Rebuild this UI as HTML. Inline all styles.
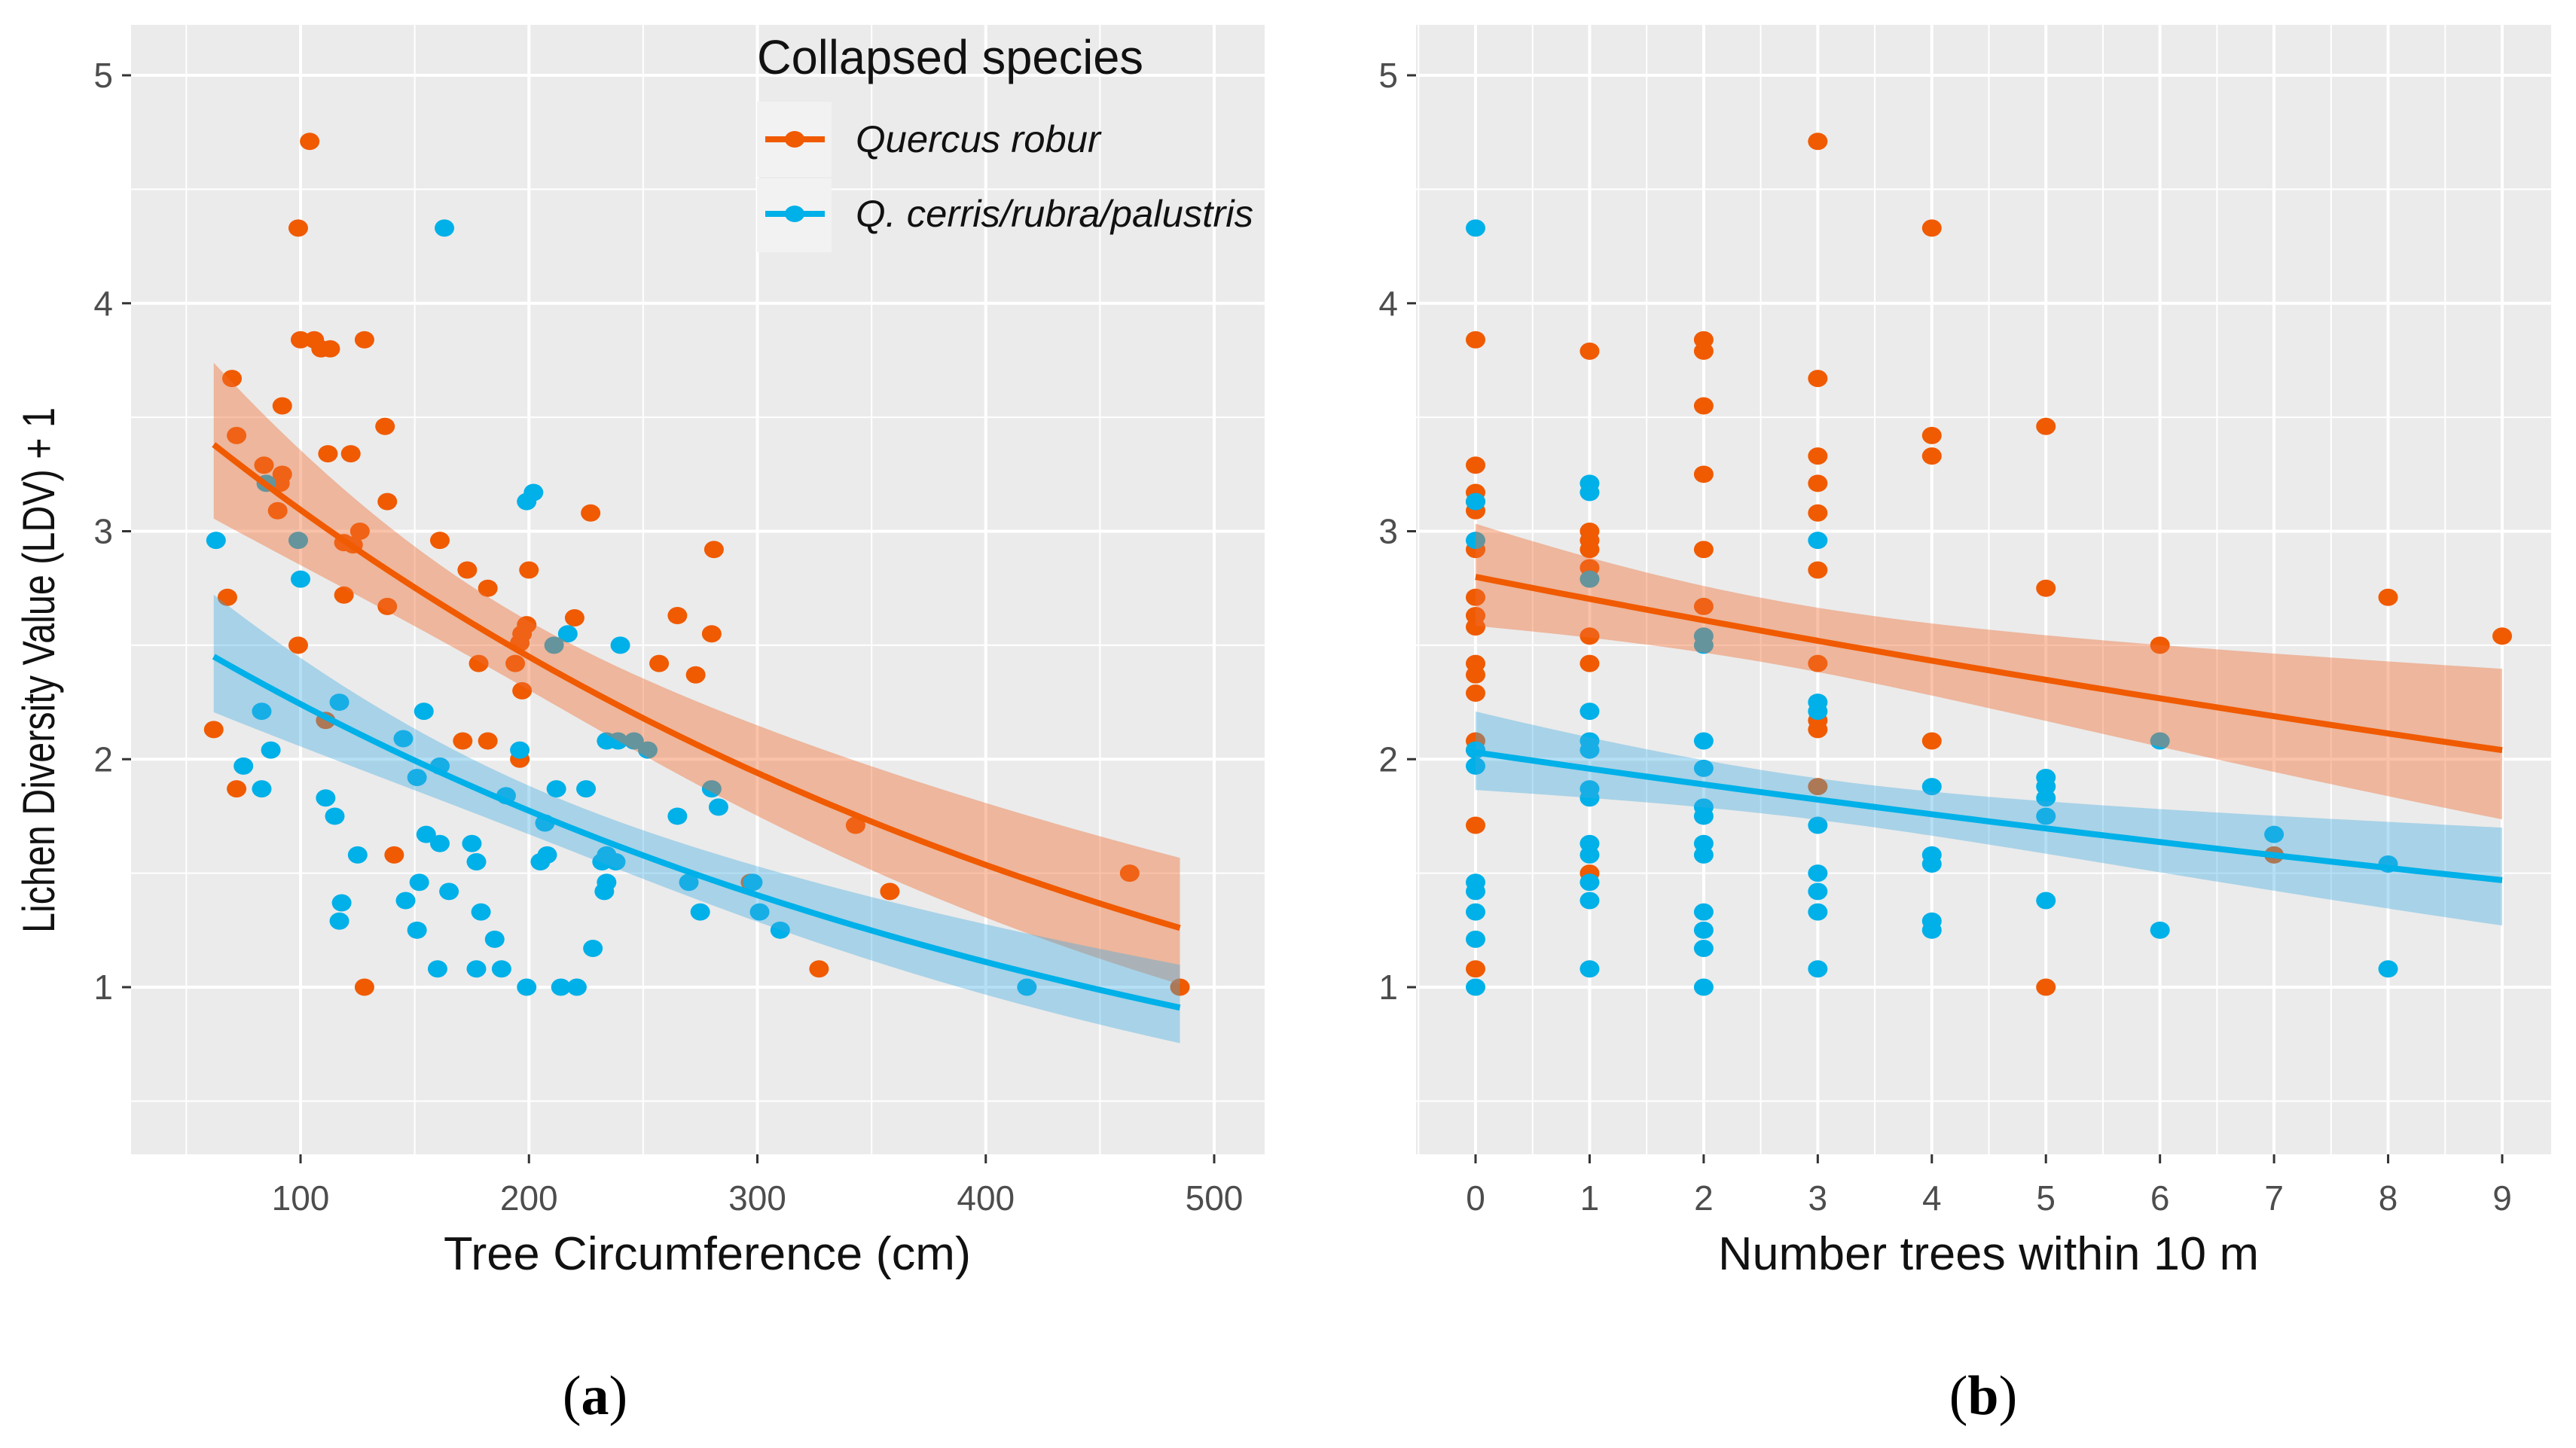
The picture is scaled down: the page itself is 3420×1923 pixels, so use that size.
<!DOCTYPE html>
<html><head><meta charset="utf-8"><style>
html,body{margin:0;padding:0;background:#fff;}
svg{display:block;font-family:"Liberation Sans",sans-serif;}
</style></head><body>
<svg id="chart" width="3420" height="1923" viewBox="0 0 3420 1923" xmlns="http://www.w3.org/2000/svg">
<g id="pa"></g>
<g id="pb"></g>
<g id="legend">
  <rect x="1005" y="135" width="99" height="100" fill="#f2f2f2"/>
  <rect x="1005" y="237" width="99" height="98" fill="#f2f2f2"/>
  <text x="1005" y="98" font-size="64" fill="#111" textLength="513" lengthAdjust="spacingAndGlyphs">Collapsed species</text>
  <line x1="1016" y1="185" x2="1095" y2="185" stroke="#f05a00" stroke-width="8"/>
  <ellipse cx="1055" cy="185" rx="13" ry="11" fill="#f05a00"/>
  <line x1="1016" y1="284" x2="1095" y2="284" stroke="#00b0e8" stroke-width="8"/>
  <ellipse cx="1055" cy="284" rx="13" ry="11" fill="#00b0e8"/>
  <text x="1136" y="202" font-size="50" font-style="italic" fill="#111" textLength="325" lengthAdjust="spacingAndGlyphs">Quercus robur</text>
  <text x="1136" y="301" font-size="50" font-style="italic" fill="#111" textLength="528" lengthAdjust="spacingAndGlyphs">Q. cerris/rubra/palustris</text>
</g>
<text transform="translate(72,890) rotate(-90)" text-anchor="middle" font-size="60" fill="#111" textLength="698" lengthAdjust="spacingAndGlyphs">Lichen Diversity Value (LDV) + 1</text>
<text x="939" y="1686" text-anchor="middle" font-size="62" fill="#111" textLength="700" lengthAdjust="spacingAndGlyphs">Tree Circumference (cm)</text>
<text x="2640" y="1686" text-anchor="middle" font-size="62" fill="#111" textLength="718" lengthAdjust="spacingAndGlyphs">Number trees within 10 m</text>
<text x="790" y="1878" text-anchor="middle" font-size="74" font-family="Liberation Serif, serif" fill="#000">(<tspan font-weight="bold">a</tspan>)</text>
<text x="2633" y="1878" text-anchor="middle" font-size="74" font-family="Liberation Serif, serif" fill="#000">(<tspan font-weight="bold">b</tspan>)</text>
</svg>
<script>
// Panel a data
const aRoburX = [104,99,100,106,109,113,128,70,72,92,137,84,92,91,90,112,122,138,126,119,123,161,68,119,138,99,62,72,111,141,128,173,182,200,199,197,196,194,197,196,178,171,182,227,220,265,257,273,281,280,297,327,343,358,463,485];
const aRoburY = [4.71,4.33,3.84,3.84,3.8,3.8,3.84,3.67,3.42,3.55,3.46,3.29,3.25,3.21,3.09,3.34,3.34,3.13,3.0,2.95,2.94,2.96,2.71,2.72,2.67,2.5,2.13,1.87,2.17,1.58,1.0,2.83,2.75,2.83,2.59,2.55,2.51,2.42,2.3,2.0,2.42,2.08,2.08,3.08,2.62,2.63,2.42,2.37,2.92,2.55,1.46,1.08,1.71,1.42,1.5,1.0];
const aOtherX = [63,85,99,100,163,199,202,83,87,75,83,111,115,117,125,118,117,154,145,151,161,155,161,152,146,151,160,165,175,177,179,185,188,177,190,196,199,207,205,208,214,221,212,225,211,217,240,234,239,246,252,228,232,234,233,234,238,265,270,275,280,283,298,301,310,418];
const aOtherY = [2.96,3.21,2.96,2.79,4.33,3.13,3.17,2.21,2.04,1.97,1.87,1.83,1.75,2.25,1.58,1.37,1.29,2.21,2.09,1.92,1.97,1.67,1.63,1.46,1.38,1.25,1.08,1.42,1.63,1.55,1.33,1.21,1.08,1.08,1.84,2.04,1.0,1.72,1.55,1.58,1.0,1.0,1.87,1.87,2.5,2.55,2.5,2.08,2.08,2.08,2.04,1.17,1.55,1.46,1.42,1.58,1.55,1.75,1.46,1.33,1.87,1.79,1.46,1.33,1.25,1.0];
// fit params: [a, b, c0, c1, xmean, xmin, xmax]
const aRoburFit = [3.906,-0.002333,0.0036,4.74e-7,180,62,485];
const aOtherFit = [2.833,-0.002341,0.0036,3.9e-7,200,62,485];
const aXTicks = [100,200,300,400,500];
const yTicks = [1,2,3,4,5];
// Panel b data
const bRoburX = [0,0,0,0,0,0,0,0,0,0,0,0,0,0,0,0, 1,1,1,1,1,1,1,1, 2,2,2,2,2,2, 3,3,3,3,3,3,3,3,3,3, 4,4,4,4, 5,5,5, 6,7,8,9];
const bRoburY = [3.84,3.29,3.17,3.13,3.09,2.92,2.71,2.63,2.58,2.42,2.37,2.29,2.08,2.04,1.71,1.08, 3.79,3.0,2.96,2.92,2.84,2.54,2.42,1.5, 3.84,3.79,3.55,3.25,2.92,2.67, 4.71,3.67,3.33,3.21,3.08,2.83,2.42,2.17,2.13,1.88, 4.33,3.42,3.33,2.08, 3.46,2.75,1.0, 2.5,1.58,2.71,2.54];
const bOtherX = [0,0,0,0,0,0,0,0,0,0, 1,1,1,1,1,1,1,1,1,1,1,1,1, 2,2,2,2,2,2,2,2,2,2,2,2, 3,3,3,3,3,3,3,3, 4,4,4,4,4, 5,5,5,5,5, 6,6,7,8,8];
const bOtherY = [4.33,3.13,2.96,2.04,1.97,1.46,1.42,1.33,1.21,1.0, 3.21,3.17,2.79,2.21,2.08,2.04,1.87,1.83,1.63,1.58,1.46,1.38,1.08, 2.54,2.5,2.08,1.96,1.79,1.75,1.63,1.58,1.33,1.25,1.17,1.0, 2.96,2.25,2.21,1.71,1.5,1.42,1.33,1.08, 1.88,1.58,1.54,1.29,1.25, 1.92,1.88,1.83,1.75,1.38, 2.08,1.25,1.67,1.54,1.08];
const bRoburFit = [2.80,-0.0352,0.003,0.000544,2.5,0,9];
const bOtherFit = [2.03,-0.0359,0.0025,0.00052,3,0,9];
const bXTicks = [0,1,2,3,4,5,6,7,8,9];

const NS = "http://www.w3.org/2000/svg";
const ORANGE = "#f05a00", BLUE = "#00b0e8";
function mk(tag, attrs, parent){ const e=document.createElementNS(NS,tag); for(const k in attrs) e.setAttribute(k,attrs[k]); parent.appendChild(e); return e; }
const yScale = v => 1311 + (1 - v) * (1311 - 100) / 4;
const PT = 33, PB = 1533;

function drawPanel(g, left, right, xs, xTicks, minorStep, roburX, roburY, otherX, otherY, fitR, fitO, tag){
  const bg = mk('rect',{x:left,y:PT,width:right-left,height:PB-PT,fill:'#ebebeb'},g);
  
  
  for(let v=0.5; v<=5; v+=1){ const y=yScale(v); if(y<PT||y>PB) continue;
    const l=mk('line',{x1:left,x2:right,y1:y,y2:y,stroke:'#fff','stroke-width':2},g);
    
     }
  const d0 = xs.inv(left), d1 = xs.inv(right);
  for(let v=Math.ceil((d0 - xTicks[0])/minorStep)*minorStep + xTicks[0]; v<=d1; v+=minorStep){
    if(xTicks.some(t=>Math.abs(t-v)<1e-6)) continue;
    const x=xs(v);
    const l=mk('line',{x1:x,x2:x,y1:PT,y2:PB,stroke:'#fff','stroke-width':2},g);
    
     }
  yTicks.forEach(v=>{ const y=yScale(v);
    const l=mk('line',{x1:left,x2:right,y1:y,y2:y,stroke:'#fff','stroke-width':4},g);
    
    
    const t=mk('line',{x1:left-12,x2:left,y1:y,y2:y,stroke:'#333','stroke-width':3},g);
    
    
    const tx=mk('text',{x:left-24,y:y+16,'text-anchor':'end','font-size':46,fill:'#4d4d4d'},g);
    tx.textContent=v;
    
     });
  xTicks.forEach(v=>{ const x=xs(v);
    const l=mk('line',{x1:x,x2:x,y1:PT,y2:PB,stroke:'#fff','stroke-width':4},g);
    
    
    const t=mk('line',{x1:x,x2:x,y1:PB,y2:PB+12,stroke:'#333','stroke-width':3},g);
    
    
    const tx=mk('text',{x:x,y:1607,'text-anchor':'middle','font-size':46,fill:'#4d4d4d'},g);
    tx.textContent=v;
    
     });
  const pts=(X,Y,c,name)=>X.forEach((xv,i)=>{
    const p=mk('ellipse',{cx:xs(xv),cy:yScale(Y[i]),rx:13,ry:11.5,fill:c},g);
    
     });
  pts(roburX,roburY,ORANGE,'point-robur');
  pts(otherX,otherY,BLUE,'point-other');
  const fit=(F,c,bandFill,name)=>{
    const [a,b,c0,c1,xm,xmin,xmax]=F; const N=60; let up=[],lo=[],mid=[];
    for(let i=0;i<=N;i++){ const x=xmin+(xmax-xmin)*i/N; const m=Math.log(a)+b*x; const h=Math.sqrt(c0+c1*(x-xm)*(x-xm));
      mid.push([xs(x),yScale(Math.exp(m))]); up.push([xs(x),yScale(Math.exp(m+h))]); lo.push([xs(x),yScale(Math.exp(m-h))]); }
    const poly=up.concat(lo.reverse()).map(p=>p.join(',')).join(' ');
    const band=mk('polygon',{points:poly,fill:bandFill},g);
    
    
    const ln=mk('polyline',{points:mid.map(p=>p.join(',')).join(' '),fill:'none',stroke:c,'stroke-width':8},g);
    
    
  };
  fit(fitR,ORANGE,'rgba(240,110,50,0.42)','robur');
  fit(fitO,BLUE,'rgba(60,170,225,0.38)','other');
}
function linScale(d0,p0,d1,p1){ const f=v=>p0+(v-d0)*(p1-p0)/(d1-d0); f.inv=p=>d0+(p-p0)*(d1-d0)/(p1-p0); return f; }
drawPanel(document.getElementById('pa'),174,1679,linScale(100,399,500,1612),aXTicks,50,aRoburX,aRoburY,aOtherX,aOtherY,aRoburFit,aOtherFit,'a');
drawPanel(document.getElementById('pb'),1880,3387,linScale(0,1959,9,3322),bXTicks,0.5,bRoburX,bRoburY,bOtherX,bOtherY,bRoburFit,bOtherFit,'b');
document.getElementById('chart').appendChild(document.getElementById('legend'));
</script>
</body></html>
